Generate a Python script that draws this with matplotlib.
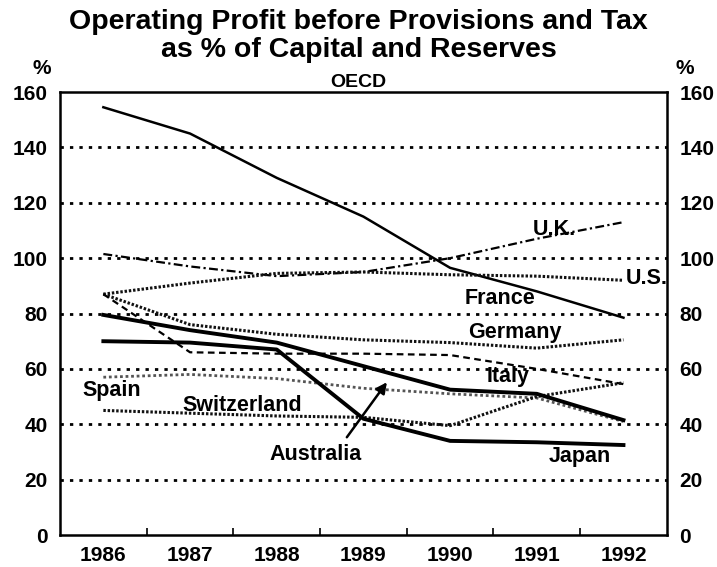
import matplotlib
matplotlib.use('Agg')
import matplotlib.pyplot as plt
import numpy as np

plt.rcParams['font.family'] = ['Liberation Sans', 'DejaVu Sans']
plt.rcParams['font.weight'] = 'bold'

# data (% of capital and reserves)
years = [1986, 1987, 1988, 1989, 1990, 1991, 1992]
france = [154.5, 145, 129, 115, 96.5, 88, 78.5]
uk = [101.5, 97, 93.5, 95, 100, 107, 113]
us = [87, 91, 94.5, 95, 94, 93.5, 92]
germany = [87, 76, 72.5, 70.5, 69.5, 67.5, 70.5]
italy = [87, 66, 65.5, 65.5, 65, 60, 54.5]
spain = [57, 58, 56.5, 53, 51, 49.5, 41]
switzerland = [45, 44, 43, 42.5, 39.5, 50, 55]
australia = [79.5, 74, 69.5, 61, 52.5, 51, 41.5]
japan = [70, 69.5, 67, 42, 34, 33.5, 32.5]

yticks = [0, 20, 40, 60, 80, 100, 120, 140, 160]

fig = plt.figure(figsize=(7.17, 5.67), dpi=100)
ax = fig.add_axes([0.0837, 0.0564, 0.8463, 0.7813])

# gridlines
for v in yticks[1:-1]:
    ax.axhline(v, color='black', linestyle=(0, (1.2, 2.2)), linewidth=2, zorder=1)

ax.plot(years, france, color='black', linewidth=1.8)
ax.plot(years, uk, color='black', linewidth=1.6, linestyle=(0, (4, 1.5, 1, 1.5)))
ax.plot(years, us, color='#111111', linewidth=2.2, linestyle=(0, (0.8, 0.6)))
ax.plot(years, germany, color='#111111', linewidth=2.2, linestyle=(0, (0.8, 0.6)))
ax.plot(years, italy, color='black', linewidth=1.6, linestyle=(0, (3, 2)))
ax.plot(years, spain, color='#555555', linewidth=2.0, linestyle=(0, (1, 1)))
ax.plot(years, switzerland, color='#111111', linewidth=2.2, linestyle=(0, (0.8, 0.6)))
ax.plot(years, australia, color='black', linewidth=2.8)
ax.plot(years, japan, color='black', linewidth=2.8)

# series labels
lab = dict(fontsize=15.5, fontweight='bold', ha='center', va='center')
ax.text(1991.2, 110.5, 'U.K.', **lab)
ax.text(1992.27, 92.5, 'U.S.', **lab)
ax.text(1990.58, 85.6, 'France', **lab)
ax.text(1990.75, 73, 'Germany', **lab)
ax.text(1990.67, 57.4, 'Italy', **lab)
ax.text(1986.1, 52.3, 'Spain', **lab)
ax.text(1987.6, 46.6, 'Switzerland', **lab)
ax.text(1988.45, 29, 'Australia', **lab)
ax.text(1991.5, 28.5, 'Japan', **lab)
ax.annotate('', xy=(1989.29, 56), xytext=(1988.79, 34.5),
            arrowprops=dict(arrowstyle='-|>', color='black', lw=1.8, mutation_scale=16))

ax.set_xlim(1985.5, 1992.5)
ax.set_ylim(0, 160)
ax.set_xticks(years)
ax.set_xticklabels([str(y) for y in years], fontsize=15, fontweight='bold')
ax.set_xticks(np.arange(1986.5, 1992, 1), minor=True)
ax.tick_params(axis='x', which='major', length=0, pad=8)
ax.tick_params(axis='x', which='minor', direction='in', length=5, width=1.2)
ax.set_yticks(yticks)
ax.set_yticklabels([str(v) for v in yticks], fontsize=15, fontweight='bold')
ax.tick_params(axis='y', direction='in', length=0, pad=9, labelright=True, right=True)
for s in ax.spines.values():
    s.set_linewidth(1.8)

fig.text(0.5, 0.962, 'Operating Profit before Provisions and Tax', fontsize=20.5,
         fontweight='bold', ha='center', va='center')
fig.text(0.5, 0.912, 'as % of Capital and Reserves', fontsize=20.5,
         fontweight='bold', ha='center', va='center')
fig.text(0.5, 0.855, 'OECD', fontsize=14, fontweight='bold', ha='center', va='center')
fig.text(0.058, 0.88, '%', fontsize=15, fontweight='bold', ha='center', va='center')
fig.text(0.955, 0.88, '%', fontsize=15, fontweight='bold', ha='center', va='center')

fig.savefig('out.png', dpi=100)
